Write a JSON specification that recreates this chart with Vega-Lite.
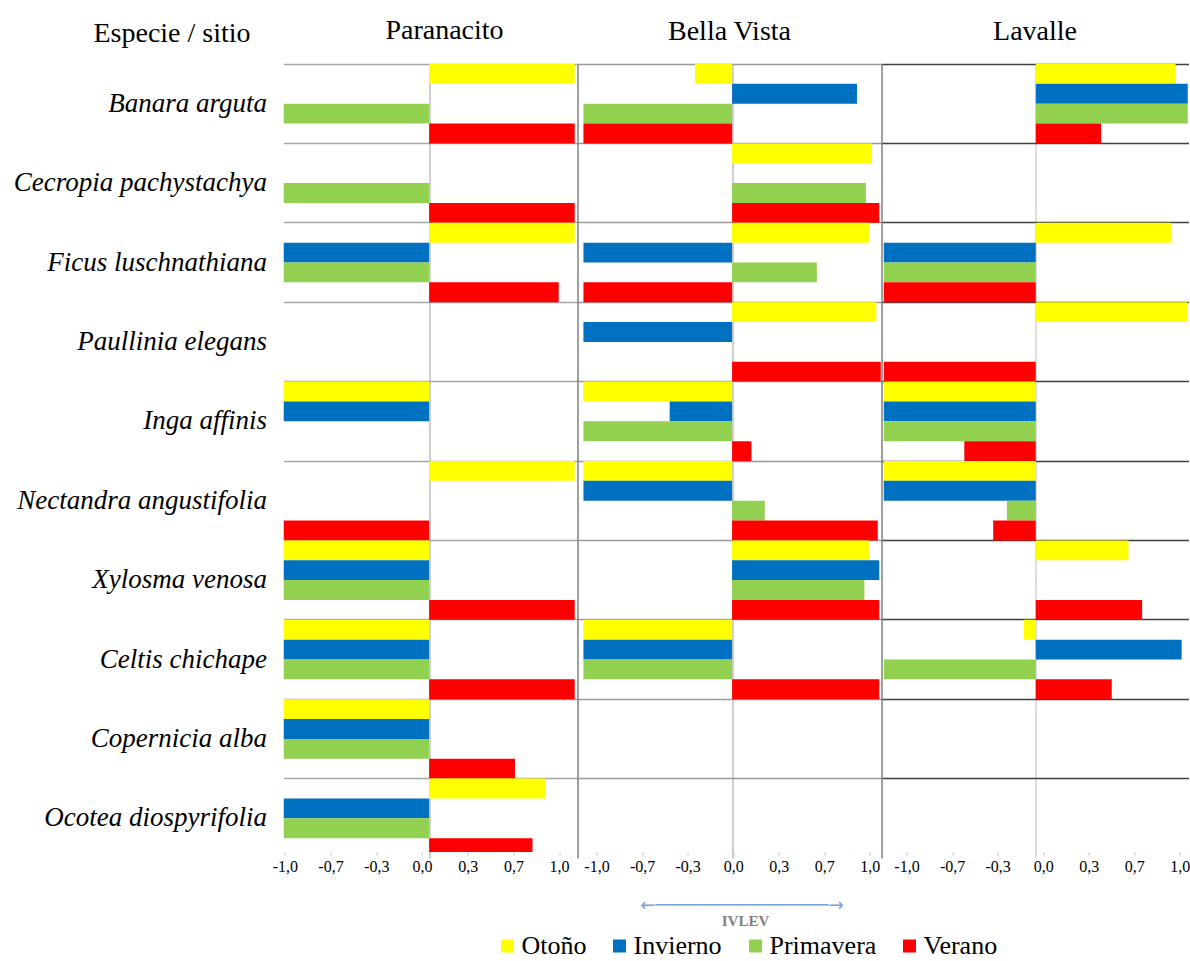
{
  "$schema": "https://vega.github.io/schema/vega-lite/v6.json",
  "background": "white",
  "padding": {"left": 12.5, "top": 17, "right": 0, "bottom": 0},
  "spacing": 0,
  "config": {
    "view": {"stroke": null},
    "locale": {"number": {"decimal": ",", "thousands": ".", "grouping": [3], "currency": ["", " €"], "minus": "-"}},
    "font": "Liberation Serif",
    "title": {"font": "Liberation Serif", "fontSize": 28, "fontWeight": "normal", "color": "black", "anchor": "middle", "offset": 18}
  },
  "resolve": {"scale": {"color": "shared"}},
  "datasets": {
    "ivlev": [
      {"sitio": "Paranacito", "especie": "Banara arguta", "estacion": "Otoño", "valor": 1.0},
      {"sitio": "Paranacito", "especie": "Banara arguta", "estacion": "Primavera", "valor": -1.0},
      {"sitio": "Paranacito", "especie": "Banara arguta", "estacion": "Verano", "valor": 1.0},
      {"sitio": "Paranacito", "especie": "Cecropia pachystachya", "estacion": "Primavera", "valor": -1.0},
      {"sitio": "Paranacito", "especie": "Cecropia pachystachya", "estacion": "Verano", "valor": 1.0},
      {"sitio": "Paranacito", "especie": "Ficus luschnathiana", "estacion": "Otoño", "valor": 1.0},
      {"sitio": "Paranacito", "especie": "Ficus luschnathiana", "estacion": "Invierno", "valor": -1.0},
      {"sitio": "Paranacito", "especie": "Ficus luschnathiana", "estacion": "Primavera", "valor": -1.0},
      {"sitio": "Paranacito", "especie": "Ficus luschnathiana", "estacion": "Verano", "valor": 0.89},
      {"sitio": "Paranacito", "especie": "Inga affinis", "estacion": "Otoño", "valor": -1.0},
      {"sitio": "Paranacito", "especie": "Inga affinis", "estacion": "Invierno", "valor": -1.0},
      {"sitio": "Paranacito", "especie": "Nectandra angustifolia", "estacion": "Otoño", "valor": 1.0},
      {"sitio": "Paranacito", "especie": "Nectandra angustifolia", "estacion": "Verano", "valor": -1.0},
      {"sitio": "Paranacito", "especie": "Xylosma venosa", "estacion": "Otoño", "valor": -1.0},
      {"sitio": "Paranacito", "especie": "Xylosma venosa", "estacion": "Invierno", "valor": -1.0},
      {"sitio": "Paranacito", "especie": "Xylosma venosa", "estacion": "Primavera", "valor": -1.0},
      {"sitio": "Paranacito", "especie": "Xylosma venosa", "estacion": "Verano", "valor": 1.0},
      {"sitio": "Paranacito", "especie": "Celtis chichape", "estacion": "Otoño", "valor": -1.0},
      {"sitio": "Paranacito", "especie": "Celtis chichape", "estacion": "Invierno", "valor": -1.0},
      {"sitio": "Paranacito", "especie": "Celtis chichape", "estacion": "Primavera", "valor": -1.0},
      {"sitio": "Paranacito", "especie": "Celtis chichape", "estacion": "Verano", "valor": 1.0},
      {"sitio": "Paranacito", "especie": "Copernicia alba", "estacion": "Otoño", "valor": -1.0},
      {"sitio": "Paranacito", "especie": "Copernicia alba", "estacion": "Invierno", "valor": -1.0},
      {"sitio": "Paranacito", "especie": "Copernicia alba", "estacion": "Primavera", "valor": -1.0},
      {"sitio": "Paranacito", "especie": "Copernicia alba", "estacion": "Verano", "valor": 0.59},
      {"sitio": "Paranacito", "especie": "Ocotea diospyrifolia", "estacion": "Otoño", "valor": 0.8},
      {"sitio": "Paranacito", "especie": "Ocotea diospyrifolia", "estacion": "Invierno", "valor": -1.0},
      {"sitio": "Paranacito", "especie": "Ocotea diospyrifolia", "estacion": "Primavera", "valor": -1.0},
      {"sitio": "Paranacito", "especie": "Ocotea diospyrifolia", "estacion": "Verano", "valor": 0.71},

      {"sitio": "Bella Vista", "especie": "Banara arguta", "estacion": "Otoño", "valor": -0.25},
      {"sitio": "Bella Vista", "especie": "Banara arguta", "estacion": "Invierno", "valor": 0.84},
      {"sitio": "Bella Vista", "especie": "Banara arguta", "estacion": "Primavera", "valor": -1.0},
      {"sitio": "Bella Vista", "especie": "Banara arguta", "estacion": "Verano", "valor": -1.0},
      {"sitio": "Bella Vista", "especie": "Cecropia pachystachya", "estacion": "Otoño", "valor": 0.94},
      {"sitio": "Bella Vista", "especie": "Cecropia pachystachya", "estacion": "Primavera", "valor": 0.9},
      {"sitio": "Bella Vista", "especie": "Cecropia pachystachya", "estacion": "Verano", "valor": 0.99},
      {"sitio": "Bella Vista", "especie": "Ficus luschnathiana", "estacion": "Otoño", "valor": 0.92},
      {"sitio": "Bella Vista", "especie": "Ficus luschnathiana", "estacion": "Invierno", "valor": -1.0},
      {"sitio": "Bella Vista", "especie": "Ficus luschnathiana", "estacion": "Primavera", "valor": 0.57},
      {"sitio": "Bella Vista", "especie": "Ficus luschnathiana", "estacion": "Verano", "valor": -1.0},
      {"sitio": "Bella Vista", "especie": "Paullinia elegans", "estacion": "Otoño", "valor": 0.97},
      {"sitio": "Bella Vista", "especie": "Paullinia elegans", "estacion": "Invierno", "valor": -1.0},
      {"sitio": "Bella Vista", "especie": "Paullinia elegans", "estacion": "Verano", "valor": 1.0},
      {"sitio": "Bella Vista", "especie": "Inga affinis", "estacion": "Otoño", "valor": -1.0},
      {"sitio": "Bella Vista", "especie": "Inga affinis", "estacion": "Invierno", "valor": -0.42},
      {"sitio": "Bella Vista", "especie": "Inga affinis", "estacion": "Primavera", "valor": -1.0},
      {"sitio": "Bella Vista", "especie": "Inga affinis", "estacion": "Verano", "valor": 0.13},
      {"sitio": "Bella Vista", "especie": "Nectandra angustifolia", "estacion": "Otoño", "valor": -1.0},
      {"sitio": "Bella Vista", "especie": "Nectandra angustifolia", "estacion": "Invierno", "valor": -1.0},
      {"sitio": "Bella Vista", "especie": "Nectandra angustifolia", "estacion": "Primavera", "valor": 0.22},
      {"sitio": "Bella Vista", "especie": "Nectandra angustifolia", "estacion": "Verano", "valor": 0.98},
      {"sitio": "Bella Vista", "especie": "Xylosma venosa", "estacion": "Otoño", "valor": 0.92},
      {"sitio": "Bella Vista", "especie": "Xylosma venosa", "estacion": "Invierno", "valor": 0.99},
      {"sitio": "Bella Vista", "especie": "Xylosma venosa", "estacion": "Primavera", "valor": 0.89},
      {"sitio": "Bella Vista", "especie": "Xylosma venosa", "estacion": "Verano", "valor": 0.99},
      {"sitio": "Bella Vista", "especie": "Celtis chichape", "estacion": "Otoño", "valor": -1.0},
      {"sitio": "Bella Vista", "especie": "Celtis chichape", "estacion": "Invierno", "valor": -1.0},
      {"sitio": "Bella Vista", "especie": "Celtis chichape", "estacion": "Primavera", "valor": -1.0},
      {"sitio": "Bella Vista", "especie": "Celtis chichape", "estacion": "Verano", "valor": 0.99},

      {"sitio": "Lavalle", "especie": "Banara arguta", "estacion": "Otoño", "valor": 0.92},
      {"sitio": "Lavalle", "especie": "Banara arguta", "estacion": "Invierno", "valor": 1.0},
      {"sitio": "Lavalle", "especie": "Banara arguta", "estacion": "Primavera", "valor": 1.0},
      {"sitio": "Lavalle", "especie": "Banara arguta", "estacion": "Verano", "valor": 0.43},
      {"sitio": "Lavalle", "especie": "Ficus luschnathiana", "estacion": "Otoño", "valor": 0.89},
      {"sitio": "Lavalle", "especie": "Ficus luschnathiana", "estacion": "Invierno", "valor": -1.0},
      {"sitio": "Lavalle", "especie": "Ficus luschnathiana", "estacion": "Primavera", "valor": -1.0},
      {"sitio": "Lavalle", "especie": "Ficus luschnathiana", "estacion": "Verano", "valor": -1.0},
      {"sitio": "Lavalle", "especie": "Paullinia elegans", "estacion": "Otoño", "valor": 1.0},
      {"sitio": "Lavalle", "especie": "Paullinia elegans", "estacion": "Verano", "valor": -1.0},
      {"sitio": "Lavalle", "especie": "Inga affinis", "estacion": "Otoño", "valor": -1.0},
      {"sitio": "Lavalle", "especie": "Inga affinis", "estacion": "Invierno", "valor": -1.0},
      {"sitio": "Lavalle", "especie": "Inga affinis", "estacion": "Primavera", "valor": -1.0},
      {"sitio": "Lavalle", "especie": "Inga affinis", "estacion": "Verano", "valor": -0.47},
      {"sitio": "Lavalle", "especie": "Nectandra angustifolia", "estacion": "Otoño", "valor": -1.0},
      {"sitio": "Lavalle", "especie": "Nectandra angustifolia", "estacion": "Invierno", "valor": -1.0},
      {"sitio": "Lavalle", "especie": "Nectandra angustifolia", "estacion": "Primavera", "valor": -0.19},
      {"sitio": "Lavalle", "especie": "Nectandra angustifolia", "estacion": "Verano", "valor": -0.28},
      {"sitio": "Lavalle", "especie": "Xylosma venosa", "estacion": "Otoño", "valor": 0.61},
      {"sitio": "Lavalle", "especie": "Xylosma venosa", "estacion": "Verano", "valor": 0.7},
      {"sitio": "Lavalle", "especie": "Celtis chichape", "estacion": "Otoño", "valor": -0.08},
      {"sitio": "Lavalle", "especie": "Celtis chichape", "estacion": "Invierno", "valor": 0.96},
      {"sitio": "Lavalle", "especie": "Celtis chichape", "estacion": "Primavera", "valor": -1.0},
      {"sitio": "Lavalle", "especie": "Celtis chichape", "estacion": "Verano", "valor": 0.5}
    ]
  },
  "hconcat": [
    {
      "width": 294,
      "height": 788,
      "title": {"text": "Paranacito", "dx": 14, "offset": -26},
      "data": {"name": "ivlev"},
      "transform": [{"filter": "datum.sitio === 'Paranacito'"}],
      "layer": [
        {
          "mark": {"type": "bar", "clip": true},
          "encoding": {
            "y": {"field": "especie", "type": "nominal",
              "scale": {"domain": ["Banara arguta", "Cecropia pachystachya", "Ficus luschnathiana", "Paullinia elegans", "Inga affinis", "Nectandra angustifolia", "Xylosma venosa", "Celtis chichape", "Copernicia alba", "Ocotea diospyrifolia"], "range": [0, 794], "paddingInner": 0, "paddingOuter": 0},
              "axis": {"orient": "right", "bandPosition": 0, "grid": true, "gridColor": "#a6a6a6", "gridWidth": 1.5, "labels": false, "ticks": false, "domain": false, "title": null, "minExtent": 0, "maxExtent": 0}},
            "yOffset": {"field": "estacion", "type": "nominal", "scale": {"domain": ["Otoño", "Invierno", "Primavera", "Verano"], "paddingInner": 0, "paddingOuter": 0}},
            "x": {"field": "valor", "type": "quantitative", "scale": {"domain": [-1, 1.019], "nice": false},
              "axis": {"orient": "top", "values": [0], "grid": true, "gridColor": "#bfbfbf", "gridWidth": 1.5, "labels": false, "ticks": false, "domain": false, "title": null, "minExtent": 0, "maxExtent": 0}},
            "color": {"field": "estacion", "type": "nominal",
              "scale": {"domain": ["Otoño", "Invierno", "Primavera", "Verano"], "range": ["#FFFF00", "#0070C0", "#92D050", "#FF0000"]},
              "legend": {"orient": "none", "legendX": 211, "legendY": 850, "direction": "horizontal", "title": "IVLEV", "titleFont": "Liberation Serif", "titleFontSize": 15, "titleFontWeight": "bold", "titleColor": "#808080", "titleAnchor": "middle", "titlePadding": 4, "labelFont": "Liberation Serif", "labelFontSize": 26, "labelColor": "black", "symbolType": "square", "symbolSize": 169, "symbolStrokeWidth": 0, "columnPadding": 20, "labelOffset": 1}}
          }
        },
        {
          "mark": {"type": "rule", "opacity": 0},
          "encoding": {
            "x": {"field": "valor", "type": "quantitative", "scale": {"domain": [-1, 1], "range": [1.3, 275.6], "nice": false, "zero": false},
              "axis": {"orient": "bottom", "values": [-1, -0.6667, -0.3333, 0, 0.3333, 0.6667, 1], "format": ".1f", "labelFlush": false, "labelOverlap": false, "grid": false, "domain": false, "ticks": true, "tickSize": 3, "tickColor": "#c0c0c0", "labelFont": "Liberation Serif", "labelFontSize": 16, "labelColor": "black", "labelPadding": 3, "title": null}},
            "y": {"field": "especie", "type": "nominal",
              "axis": {"orient": "left", "grid": false, "domain": false, "ticks": false, "labelFont": "Liberation Serif", "labelFontStyle": "italic", "labelFontSize": 27, "labelColor": "black", "labelPadding": 17, "labelLimit": 400, "labelAlign": "right",
                "title": "Especie / sitio", "titleAngle": 0, "titleFont": "Liberation Serif", "titleFontSize": 28, "titleFontWeight": "normal", "titleColor": "black", "titleAlign": "center", "titleBaseline": "alphabetic", "titleX": -112, "titleY": -23}}
          }
        }
      ],
      "resolve": {"scale": {"x": "independent"}, "axis": {"y": "independent"}}
    },
    {
      "width": 304,
      "height": 788,
      "title": {"text": "Bella Vista"},
      "data": {"name": "ivlev"},
      "transform": [{"filter": "datum.sitio === 'Bella Vista'"}],
      "layer": [
        {
          "mark": {"type": "bar", "clip": true},
          "encoding": {
            "y": {"field": "especie", "type": "nominal",
              "scale": {"domain": ["Banara arguta", "Cecropia pachystachya", "Ficus luschnathiana", "Paullinia elegans", "Inga affinis", "Nectandra angustifolia", "Xylosma venosa", "Celtis chichape", "Copernicia alba", "Ocotea diospyrifolia"], "range": [0, 794], "paddingInner": 0, "paddingOuter": 0},
              "axis": {"orient": "right", "bandPosition": 0, "grid": true, "gridColor": "#9a9a9a", "gridWidth": 1.5, "labels": false, "ticks": false, "domain": false, "title": null, "minExtent": 0, "maxExtent": 0}},
            "yOffset": {"field": "estacion", "type": "nominal", "scale": {"domain": ["Otoño", "Invierno", "Primavera", "Verano"], "paddingInner": 0, "paddingOuter": 0}},
            "x": {"field": "valor", "type": "quantitative", "scale": {"domain": [-1.04, 1.005], "nice": false},
              "axis": {"orient": "top", "values": [0], "grid": true, "gridColor": "#bfbfbf", "gridWidth": 1.5, "labels": false, "ticks": false, "domain": false, "title": null, "minExtent": 0, "maxExtent": 0}},
            "color": {"field": "estacion", "type": "nominal",
              "scale": {"domain": ["Otoño", "Invierno", "Primavera", "Verano"], "range": ["#FFFF00", "#0070C0", "#92D050", "#FF0000"]},
              "legend": {"orient": "none", "legendX": 211, "legendY": 850, "direction": "horizontal", "title": "IVLEV", "titleFont": "Liberation Serif", "titleFontSize": 15, "titleFontWeight": "bold", "titleColor": "#808080", "titleAnchor": "middle", "titlePadding": 4, "labelFont": "Liberation Serif", "labelFontSize": 26, "labelColor": "black", "symbolType": "square", "symbolSize": 169, "symbolStrokeWidth": 0, "columnPadding": 20, "labelOffset": 1}}
          }
        },
        {
          "mark": {"type": "rule", "opacity": 0},
          "encoding": {
            "x": {"field": "valor", "type": "quantitative", "scale": {"domain": [-1, 1], "range": [19, 292.3], "nice": false, "zero": false},
              "axis": {"orient": "bottom", "values": [-1, -0.6667, -0.3333, 0, 0.3333, 0.6667, 1], "format": ".1f", "labelFlush": false, "labelOverlap": false, "grid": false, "domain": false, "ticks": true, "tickSize": 3, "tickColor": "#c0c0c0", "labelFont": "Liberation Serif", "labelFontSize": 16, "labelColor": "black", "labelPadding": 3,
                "title": "←────────────────→", "titleFont": "DejaVu Sans", "titleFontSize": 18, "titleFontWeight": "normal", "titleColor": "#7aa3d6", "titleX": 164, "titleY": 53, "titleBaseline": "middle", "titleAlign": "center"}},
            "y": {"field": "especie", "type": "nominal",
              "axis": {"orient": "left", "grid": false, "domain": true, "domainColor": "#808080", "domainWidth": 1.5, "ticks": false, "labels": false, "title": null, "minExtent": 0, "maxExtent": 0}}
          }
        }
      ],
      "resolve": {"scale": {"x": "independent"}, "axis": {"y": "independent"}}
    },
    {
      "width": 307,
      "height": 788,
      "title": {"text": "Lavalle"},
      "data": {"name": "ivlev"},
      "transform": [{"filter": "datum.sitio === 'Lavalle'"}],
      "layer": [
        {
          "mark": {"type": "bar", "clip": true},
          "encoding": {
            "y": {"field": "especie", "type": "nominal",
              "scale": {"domain": ["Banara arguta", "Cecropia pachystachya", "Ficus luschnathiana", "Paullinia elegans", "Inga affinis", "Nectandra angustifolia", "Xylosma venosa", "Celtis chichape", "Copernicia alba", "Ocotea diospyrifolia"], "range": [0, 794], "paddingInner": 0, "paddingOuter": 0},
              "axis": {"orient": "right", "bandPosition": 0, "grid": true, "gridColor": "#404040", "gridWidth": 1.5, "labels": false, "ticks": false, "domain": false, "title": null, "minExtent": 0, "maxExtent": 0}},
            "yOffset": {"field": "estacion", "type": "nominal", "scale": {"domain": ["Otoño", "Invierno", "Primavera", "Verano"], "paddingInner": 0, "paddingOuter": 0}},
            "x": {"field": "valor", "type": "quantitative", "scale": {"domain": [-1.015, 1.005], "nice": false},
              "axis": {"orient": "top", "values": [0], "grid": true, "gridColor": "#dedede", "gridWidth": 2, "labels": false, "ticks": false, "domain": false, "title": null, "minExtent": 0, "maxExtent": 0}},
            "color": {"field": "estacion", "type": "nominal",
              "scale": {"domain": ["Otoño", "Invierno", "Primavera", "Verano"], "range": ["#FFFF00", "#0070C0", "#92D050", "#FF0000"]},
              "legend": {"orient": "none", "legendX": 211, "legendY": 850, "direction": "horizontal", "title": "IVLEV", "titleFont": "Liberation Serif", "titleFontSize": 15, "titleFontWeight": "bold", "titleColor": "#808080", "titleAnchor": "middle", "titlePadding": 4, "labelFont": "Liberation Serif", "labelFontSize": 26, "labelColor": "black", "symbolType": "square", "symbolSize": 169, "symbolStrokeWidth": 0, "columnPadding": 20, "labelOffset": 1}}
          }
        },
        {
          "mark": {"type": "rule", "opacity": 0},
          "encoding": {
            "x": {"field": "valor", "type": "quantitative", "scale": {"domain": [-1, 1], "range": [25, 298.3], "nice": false, "zero": false},
              "axis": {"orient": "bottom", "values": [-1, -0.6667, -0.3333, 0, 0.3333, 0.6667, 1], "format": ".1f", "labelFlush": false, "labelOverlap": false, "grid": false, "domain": false, "ticks": true, "tickSize": 3, "tickColor": "#c0c0c0", "labelFont": "Liberation Serif", "labelFontSize": 16, "labelColor": "black", "labelPadding": 3, "title": null}},
            "y": {"field": "especie", "type": "nominal",
              "axis": {"orient": "left", "grid": false, "domain": true, "domainColor": "#808080", "domainWidth": 1.5, "ticks": false, "labels": false, "title": null, "minExtent": 0, "maxExtent": 0}}
          }
        }
      ],
      "resolve": {"scale": {"x": "independent"}, "axis": {"y": "independent"}}
    }
  ]
}
